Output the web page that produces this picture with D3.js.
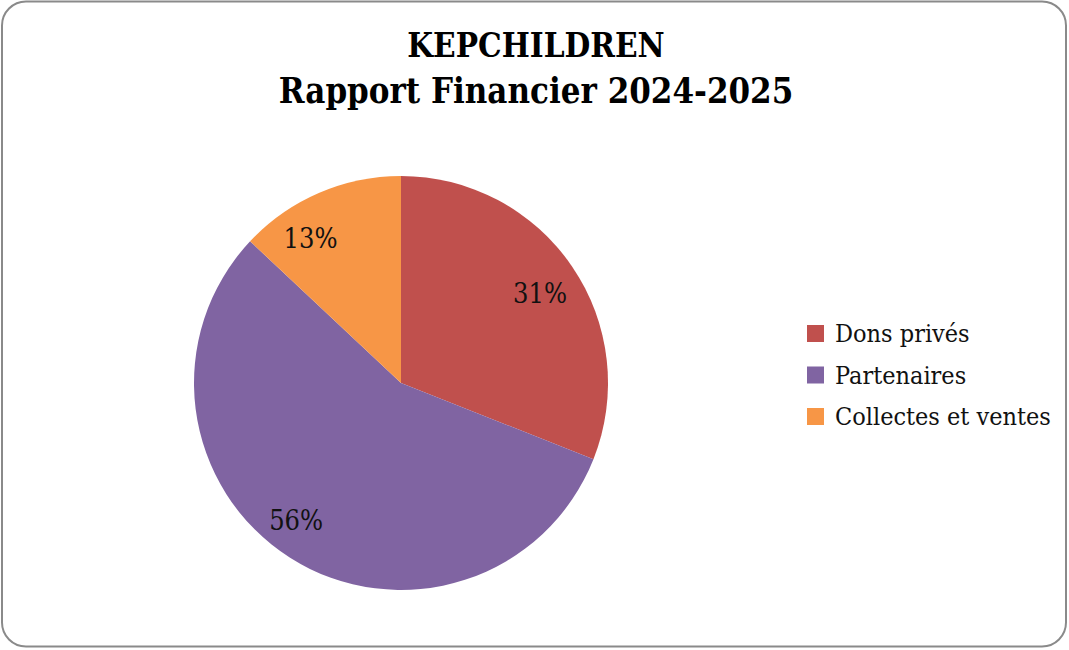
<!DOCTYPE html>
<html><head><meta charset="utf-8">
<script src="https://cdn.jsdelivr.net/npm/d3@7"></script>
<style>html,body{margin:0;padding:0;background:#fff;}svg{display:block;}</style>
</head><body>
<script>
const categories = ["Dons privés", "Partenaires", "Collectes et ventes"];
const values = [31, 56, 13];
const colors = ["#C0504D", "#8064A2", "#F79646"];
const titleLines = ["KEPCHILDREN", "Rapport Financier 2024-2025"];

const W = 1069, H = 650;
const svg = d3.select("body").append("svg").attr("width", W).attr("height", H);
const font = "'DejaVu Serif Condensed','DejaVu Serif',serif";

svg.append("rect").attr("x", 2).attr("y", 1.5).attr("width", 1064).attr("height", 645)
  .attr("rx", 24).attr("ry", 24).attr("fill", "#fff").attr("stroke", "#8a8a8a").attr("stroke-width", 2);

const titleSizes = [33, 34.5];
svg.selectAll("text.title").data(titleLines).enter().append("text")
  .attr("class", "title").attr("x", 536).attr("y", (d, i) => 57 + i * 46)
  .attr("text-anchor", "middle").attr("font-family", font).attr("font-weight", "bold")
  .attr("font-size", (d, i) => titleSizes[i]).attr("fill", "#000").text(d => d);

const cx = 401, cy = 383, r = 207;
const total = d3.sum(values);
const pie = d3.pie().sort(null).value(d => d);
const arcs = pie(values);
const arc = d3.arc().innerRadius(0).outerRadius(r);
// label placement (best-fit style nudges, degrees and radius fraction)
const labelNudge = [1.3, 4.9, -8.6];
const labelRad = [0.80, 0.836, 0.824];
const g = svg.append("g").attr("transform", `translate(${cx},${cy})`);
g.selectAll("path").data(arcs).enter().append("path")
  .attr("d", arc).attr("fill", (d, i) => colors[i]);
g.selectAll("text").data(arcs).enter().append("text")
  .attr("transform", (d, i) => {
    const a = (d.startAngle + d.endAngle) / 2 + labelNudge[i] * Math.PI / 180;
    const rr = r * labelRad[i];
    return `translate(${rr * Math.sin(a)},${-rr * Math.cos(a)})`;
  })
  .attr("text-anchor", "middle").attr("dominant-baseline", "central")
  .attr("font-family", font).attr("font-size", 27).attr("fill", "#111")
  .text(d => Math.round(d.value / total * 100) + "%");

const lg = svg.append("g");
const items = lg.selectAll("g").data(categories).enter().append("g")
  .attr("transform", (d, i) => `translate(807,${325 + i * 41.5})`);
items.append("rect").attr("width", 17).attr("height", 17).attr("fill", (d, i) => colors[i]);
items.append("text").attr("x", 28).attr("y", 8.5).attr("dominant-baseline", "central")
  .attr("font-family", font).attr("font-size", 25).attr("fill", "#111").text(d => d);
</script>
</body></html>
